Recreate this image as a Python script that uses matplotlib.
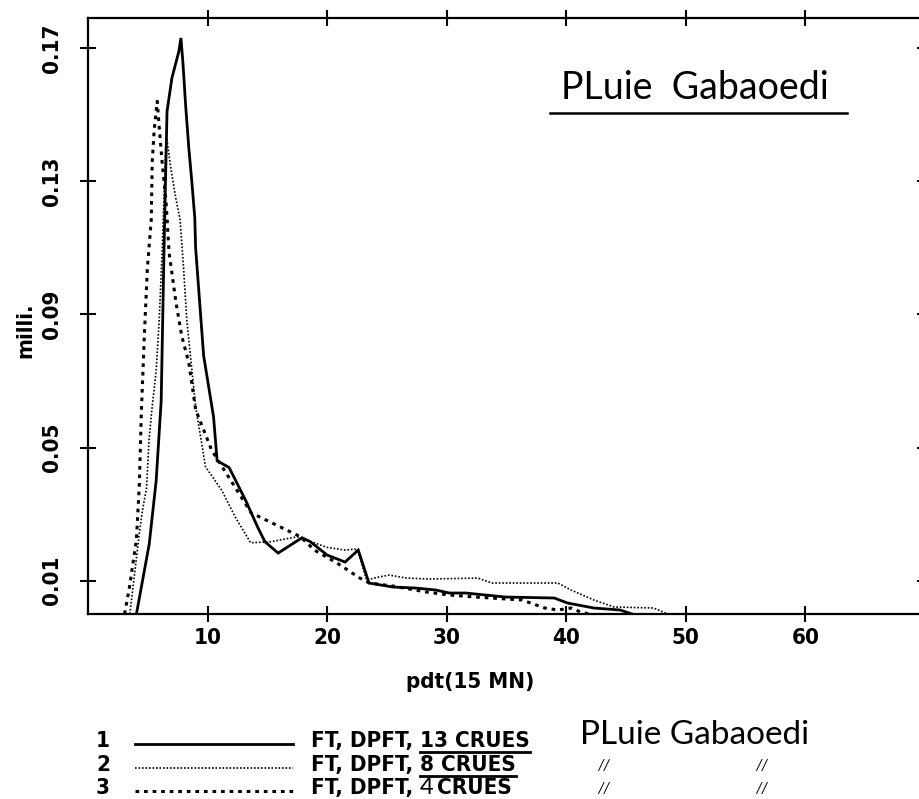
import matplotlib
matplotlib.use("Agg")
import matplotlib.pyplot as plt
from matplotlib import font_manager

# pas de temps (15 mn) et hydrogrammes unitaires, en milli.
x_13 = [4.05, 5.12, 5.70, 6.12, 6.36, 6.61, 7.02, 7.60, 7.77, 7.93, 8.18, 8.43,
        8.68, 8.93, 9.0, 9.67, 10.5, 10.8, 11.8, 13.2, 14.2, 14.8, 15.9, 17.9,
        18.6, 20.0, 21.5, 22.6, 23.5, 25.5, 27.4, 29.1, 30.2, 31.6, 34.9, 39.0,
        40.1, 42.3, 44.5, 45.5]
y_13 = [0.0, 0.021, 0.040, 0.064, 0.110, 0.151, 0.161, 0.169, 0.173, 0.166, 0.152, 0.140,
        0.130, 0.119, 0.110, 0.0776, 0.0592, 0.046, 0.044, 0.034, 0.026, 0.0217, 0.0183, 0.0229,
        0.0217, 0.0177, 0.0156, 0.0192, 0.0093, 0.0081, 0.0078, 0.0072, 0.0063, 0.0063, 0.0051, 0.0048,
        0.0033, 0.0018, 0.0012, 0.0]

x_8 = [3.5, 4.3, 4.55, 4.9, 5.1, 5.3, 5.7, 5.95, 6.2, 6.5, 6.6, 6.94, 7.36, 7.7,
       8.0, 8.26, 8.6, 9.0, 9.83, 11.16, 12.3, 13.6, 15.3, 17.5, 20.0, 21.5, 22.3,
       22.6, 23.3, 24.3, 25.2, 26.6, 28.5, 32.6, 33.8, 39.3, 40.4, 42.3, 44.0,
       47.3, 48.1, 48.5]
y_8 = [0.0, 0.0244, 0.031, 0.038, 0.052, 0.060, 0.073, 0.088, 0.1086, 0.1404, 0.1425, 0.1335,
       0.1245, 0.1185, 0.1035, 0.0884, 0.0764, 0.0623, 0.0442, 0.0373, 0.0292, 0.0214, 0.0217,
       0.0232, 0.020, 0.0192, 0.0195, 0.0186, 0.0102, 0.0111, 0.0117, 0.0108, 0.0105, 0.0108,
       0.0093, 0.0093, 0.0072, 0.0042, 0.0021, 0.0018, 0.0006, 0.0]

x_4 = [3.06, 3.47, 4.05, 4.3, 4.46, 4.71, 4.96, 5.29, 5.37, 5.54, 5.79, 5.95, 6.2,
       6.53, 6.78, 7.36, 7.85, 8.43, 9.0, 10.33, 13.64, 17.77, 18.93, 20.83, 22.73,
       23.55, 25.5, 28.3, 30.2, 32.4, 36.3, 38.2, 39.3, 40.4, 41.2, 41.9]
y_4 = [0.0, 0.0081, 0.0223, 0.0394, 0.0605, 0.0833, 0.1035, 0.1185, 0.1356, 0.1456, 0.154,
       0.1465, 0.1356, 0.1236, 0.1086, 0.0935, 0.0833, 0.0755, 0.0614, 0.0493, 0.0304, 0.0232,
       0.0192, 0.0153, 0.0108, 0.0093, 0.0084, 0.0066, 0.0057, 0.0051, 0.0042, 0.0018, 0.0012,
       0.0018, 0.0006, 0.0]

x_ticks = [10, 20, 30, 40, 50, 60]
y_ticks = [0.01, 0.05, 0.09, 0.13, 0.17]
y_tick_labels = ["0.01", "0.05", "0.09", "0.13", "0.17"]

# police grasse étroite si disponible
BOLD = {"family": "DejaVu Sans", "stretch": "normal"}
for f in font_manager.fontManager.ttflist:
    narrow = "Narrow" in f.name or "Condensed" in f.name or "condensed" in str(f.stretch)
    if narrow and f.weight in (700, "bold"):
        BOLD = {"family": f.name, "stretch": f.stretch}
        break
names = {f.name for f in font_manager.fontManager.ttflist}
HAND = "Lato" if "Lato" in names else "DejaVu Sans"
FS = 16

W, H = 919, 799
fig = plt.figure(figsize=(W / 100, H / 100), dpi=100)
fig.patch.set_facecolor("white")

# zone de tracé : x=0 a 88 px, 11.96 px par pas ; y=0 a 614 px
ax = fig.add_axes([88 / W, 1 - 614 / H, 837 / W, 596 / H])
ax.set_xlim(0, 70)
ax.set_ylim(0, 0.179)

ax.plot(x_13, y_13, color="black", lw=2.0, solid_joinstyle="miter")
ax.plot(x_8, y_8, color="black", lw=1.2, linestyle=(0, (1, 1.1)))
ax.plot(x_4, y_4, color="black", lw=2.2, linestyle=(0, (1.2, 1.6)))

for s in ax.spines.values():
    s.set_linewidth(1.6)
ax.spines["right"].set_visible(False)

ax.set_xticks(x_ticks)
ax.set_xticklabels([str(t) for t in x_ticks])
ax.set_yticks(y_ticks)
ax.set_yticklabels(y_tick_labels, rotation=90, va="center")
ax.tick_params(axis="both", direction="inout", length=11.5, width=1.5,
               top=True, right=True, labelsize=FS)
ax.tick_params(axis="x", pad=4)
ax.tick_params(axis="y", pad=13)
for lab in ax.get_xticklabels() + ax.get_yticklabels():
    lab.set_fontfamily(BOLD["family"])
    lab.set_fontstretch(BOLD["stretch"])
    lab.set_fontweight("bold")

ax.set_xlabel("pdt(15 MN)", family=BOLD["family"], stretch=BOLD["stretch"],
              weight="bold", fontsize=FS)
ax.xaxis.set_label_coords((470 - 88) / 837, (614 - 672) / 596)
ax.set_ylabel("milli.", family=BOLD["family"], stretch=BOLD["stretch"],
              weight="bold", fontsize=FS)
ax.yaxis.set_label_coords((35 - 88) / 837, (614 - 330) / 596)

# calque en pixels pour le titre, la légende et les annotations
ov = fig.add_axes([0, 0, 1, 1], facecolor="none")
ov.set_xlim(0, W)
ov.set_ylim(H, 0)
ov.axis("off")

ov.text(695, 88, "PLuie  Gabaoedi", family=HAND, fontsize=27, ha="center", va="center")
ov.plot([550, 847], [113, 113], color="black", lw=1.8)

styles = [
    dict(lw=2.0),
    dict(lw=1.2, linestyle=(0, (1, 1.1))),
    dict(lw=2.2, linestyle=(0, (1.2, 1.6))),
]
counts = ["13", "8", "4"]
row_y = [741, 765, 788]
txt = dict(family=BOLD["family"], stretch=BOLD["stretch"], weight="bold",
           fontsize=FS, va="center")
renderer = fig.canvas.get_renderer()
for i, (style, n, yy) in enumerate(zip(styles, counts, row_y)):
    ov.text(103, yy, str(i + 1), ha="center", **txt)
    ov.plot([135, 293], [yy + 3, yy + 3], color="black", **style)
    head = ov.text(311, yy, "FT, DPFT,", **txt)
    x0 = head.get_window_extent(renderer).x1 + 7
    if i < 2:
        tail = ov.text(x0, yy, f"{n} CRUES", **txt)
        x1 = tail.get_window_extent(renderer).x1
        ov.plot([x0, x1], [yy + 11, yy + 11], color="black", lw=2.0)
    else:
        four = ov.text(x0, yy - 1, n, family=HAND, fontsize=17, va="center")
        x1 = four.get_window_extent(renderer).x1 + 3
        ov.text(x1, yy, "CRUES", **txt)

ov.text(580, 735, "PLuie Gabaoedi", family=HAND, fontsize=24, va="center")
for yy in row_y[1:]:
    for xx in (604, 762):
        ov.text(xx, yy + 1, "//", family=HAND, fontsize=11,
                ha="center", va="center", style="italic")

fig.savefig("out.png", dpi=100, facecolor="white")
